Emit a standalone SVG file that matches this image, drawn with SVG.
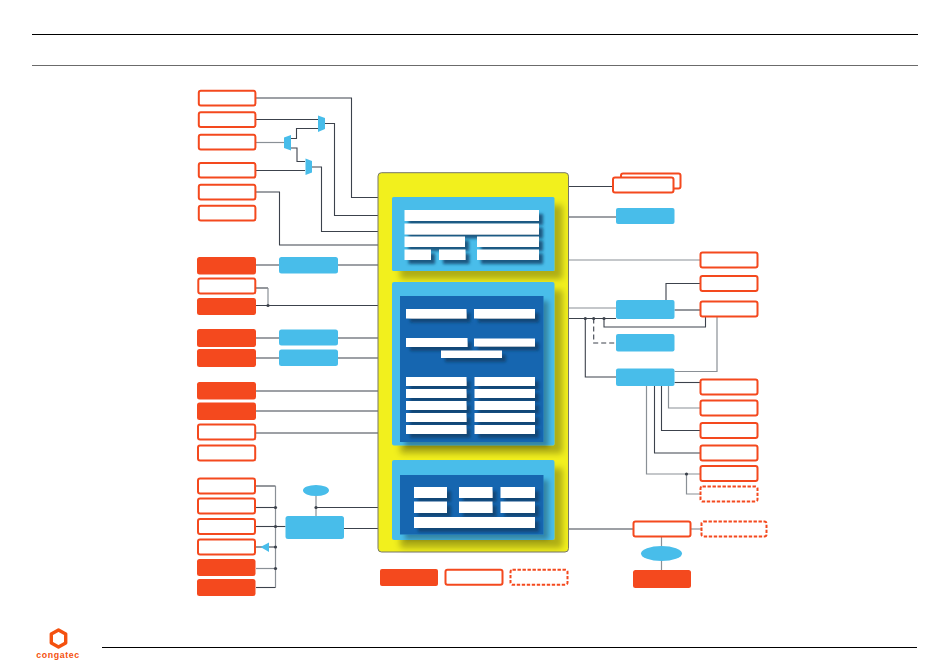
<svg xmlns="http://www.w3.org/2000/svg" width="950" height="667" viewBox="0 0 950 667">
<style>
.w{fill:#fff;stroke:#f4491e;stroke-width:2}
.f{fill:#f4491e;stroke:none}
.d{fill:#fff;stroke:#f4491e;stroke-width:2;stroke-dasharray:3.4 1.6}
.b{fill:#48bdea;stroke:none}
.c{fill:none;stroke:#3c424c;stroke-width:1.1}
.g{fill:none;stroke:#8a9096;stroke-width:1.2}
.k{fill:#3c424c;stroke:none}
.n{fill:#fff;filter:url(#s1)}
.h{stroke:#000;stroke-width:1}
</style>
<defs>
<filter id="s1" x="-30%" y="-100%" width="160%" height="320%"><feDropShadow dx="4" dy="4" stdDeviation="1.6" flood-color="#0a3c68" flood-opacity=".8"/></filter>
<filter id="s2" x="-20%" y="-20%" width="140%" height="140%"><feDropShadow dx="8" dy="8" stdDeviation="3" flood-color="#000" flood-opacity=".28"/></filter>
<filter id="s3" x="-20%" y="-20%" width="140%" height="140%"><feDropShadow dx="5" dy="5" stdDeviation="2.5" flood-color="#000" flood-opacity=".3"/></filter>
</defs>
<rect width="950" height="667" fill="#fff"/>
<g id="page-frame">
<path class="h" d="M32 34.5H918"/>
<path d="M32 65.5H918" stroke="#6b6b6b" stroke-width="1"/>
<path class="h" d="M102 647.5H917"/>
</g>
<g id="connectors">
<path class="c" d="M256 98H351.5V197.5H378"/>
<path class="c" d="M256 119.5H318"/>
<path class="c" d="M318 128.5H296.5V138.5H291"/>
<path class="g" d="M256 142.5H284" stroke-width="1.6"/>
<path class="c" d="M291 148H297V161.5H305"/>
<path class="c" d="M256 170.5H305"/>
<path class="c" d="M325 123.5H334.5V215.5H378"/>
<path class="c" d="M312 167H321.5V231.5H378"/>
<path class="c" d="M256 192H279.5V245H378"/>
<path class="c" d="M256 265H378"/>
<path class="c" d="M256 288H268"/>
<path class="g" d="M268 288V305" stroke-width="1.6"/>
<path class="c" d="M256 305.5H378"/>
<path class="c" d="M256 338H378"/>
<path class="c" d="M256 358H378"/>
<path class="c" d="M256 391H378"/>
<path class="c" d="M256 411H378"/>
<path class="c" d="M256 433H378"/>
<path class="c" d="M256 486H275.5"/>
<path class="g" d="M275.5 486V587.5" stroke-width="1.6"/>
<path class="c" d="M256 507.5H275.5"/>
<path class="c" d="M256 526.5H285.5"/>
<path class="c" d="M256 547H275.5"/>
<path class="g" d="M256 568.5H275.5" stroke-width="1.6"/>
<path class="c" d="M256 587.5H275.5"/>
<path class="g" d="M316 496V516" stroke-width="1.6"/>
<path class="c" d="M316 507.5H378"/>
<path class="c" d="M344 528.5H378"/>
<path class="c" d="M568 186.5H612"/>
<path class="c" d="M568 217H616"/>
<path class="g" d="M568 260H700"/>
<path class="c" d="M666 300V283.5H700"/>
<path class="g" d="M568 308H616"/>
<path class="c" d="M568 318.5H616"/>
<path class="c" d="M674.5 310H700"/>
<path class="c" d="M705.5 317V327H604V318.5"/>
<path class="g" d="M717 317V371.5H674.5"/>
<path class="c" d="M593.7 318.5V343H616" stroke-dasharray="5 3"/>
<path class="c" d="M585.3 318.5V377H616"/>
<path class="c" d="M674.5 382.5H700"/>
<path class="g" d="M668.5 386V408H700"/>
<path class="c" d="M661.5 386V430.5H700"/>
<path class="c" d="M654.5 386V453H700"/>
<path class="g" d="M646.5 386V474H700"/>
<path class="g" d="M686.5 474V494H700"/>
<path class="c" d="M568 529H633"/>
<path class="g" d="M691 529H701"/>
<path class="g" d="M661.5 537V570"/>
<circle class="k" cx="268" cy="305.5" r="1.6"/>
<circle class="k" cx="275.5" cy="507.5" r="1.6"/>
<circle class="k" cx="275.5" cy="526.5" r="1.6"/>
<circle class="k" cx="275.5" cy="547" r="1.6"/>
<circle class="k" cx="275.5" cy="568.5" r="1.6"/>
<circle class="k" cx="316" cy="507.5" r="1.6"/>
<circle class="k" cx="585.3" cy="318.5" r="1.6"/>
<circle class="k" cx="593.7" cy="318.5" r="1.6"/>
<circle class="k" cx="604" cy="318.5" r="1.6"/>
<circle class="k" cx="686.5" cy="474" r="1.6"/>
</g>
<g id="mux-1"><path class="b" d="M318 115.5L325 118V129L318 132Z"/></g>
<g id="mux-2"><path class="b" d="M284 137.5L291 135V150.5L284 148Z"/></g>
<g id="mux-3"><path class="b" d="M305.5 158.5L312 161V172.5L305.5 175Z"/></g>
<g id="arrow-left"><path class="b" d="M260.5 547L269 542.5V552Z"/></g>
<g id="left-1"><rect class="w" x="198.8" y="90.8" width="56.6" height="14.6" rx="2"/></g>
<g id="left-2"><rect class="w" x="198.8" y="112.3" width="56.6" height="14.6" rx="2"/></g>
<g id="left-3"><rect class="w" x="198.8" y="134.8" width="56.6" height="14.6" rx="2"/></g>
<g id="left-4"><rect class="w" x="198.8" y="163" width="56.6" height="14.6" rx="2"/></g>
<g id="left-5"><rect class="w" x="198.8" y="184.8" width="56.6" height="14.6" rx="2"/></g>
<g id="left-6"><rect class="w" x="198.8" y="205.8" width="56.6" height="14.6" rx="2"/></g>
<g id="left-7"><rect class="f" x="197" y="257" width="59" height="17.5" rx="2.5"/></g>
<g id="left-8"><rect class="w" x="198.3" y="278.5" width="57" height="15" rx="2"/></g>
<g id="left-9"><rect class="f" x="197" y="298" width="59" height="17" rx="2.5"/></g>
<g id="left-10"><rect class="f" x="197" y="329" width="59" height="18" rx="2.5"/></g>
<g id="left-11"><rect class="f" x="197" y="349" width="59" height="18" rx="2.5"/></g>
<g id="left-12"><rect class="f" x="197" y="382" width="59" height="17.5" rx="2.5"/></g>
<g id="left-13"><rect class="f" x="197" y="402.5" width="59" height="17.5" rx="2.5"/></g>
<g id="left-14"><rect class="w" x="198" y="424.5" width="57.2" height="15" rx="2"/></g>
<g id="left-15"><rect class="w" x="198" y="445.5" width="57.2" height="15" rx="2"/></g>
<g id="left-16"><rect class="w" x="198" y="478.5" width="57" height="15" rx="2"/></g>
<g id="left-17"><rect class="w" x="198" y="498.5" width="57" height="15" rx="2"/></g>
<g id="left-18"><rect class="w" x="198" y="519" width="57" height="15" rx="2"/></g>
<g id="left-19"><rect class="w" x="198" y="539.5" width="57" height="15" rx="2"/></g>
<g id="left-20"><rect class="f" x="197" y="559" width="58.5" height="17" rx="2.5"/></g>
<g id="left-21"><rect class="f" x="197" y="579" width="58.5" height="17" rx="2.5"/></g>
<g id="bridge-1"><rect class="b" x="279" y="257" width="59" height="16.5" rx="2.5"/></g>
<g id="bridge-2"><rect class="b" x="279" y="329.5" width="59" height="16" rx="2.5"/></g>
<g id="bridge-3"><rect class="b" x="279" y="349.5" width="59" height="16.5" rx="2.5"/></g>
<g id="bridge-4"><rect class="b" x="285.5" y="516" width="58.5" height="23" rx="2.5"/></g>
<g id="ellipse-1"><ellipse class="b" cx="316" cy="490.5" rx="13" ry="5.5"/></g>
<g id="module">
<rect x="378" y="172.7" width="190.5" height="379.3" rx="3.5" fill="#f2f01d" stroke="#77776a" stroke-width="1"/>
<g id="block-top">
<rect class="b" x="392" y="197" width="162.5" height="74" rx="1.5" filter="url(#s2)"/>
<rect class="n" x="404.5" y="210" width="134.5" height="11"/>
<rect class="n" x="404.5" y="223.5" width="134.5" height="11"/>
<rect class="n" x="404.5" y="236.5" width="60.5" height="10.5"/>
<rect class="n" x="477" y="236.5" width="62" height="10.5"/>
<rect class="n" x="404.5" y="249.5" width="26.5" height="10.5"/>
<rect class="n" x="439" y="249.5" width="26.5" height="10.5"/>
<rect class="n" x="477" y="249.5" width="62" height="10.5"/>
</g>
<g id="block-middle">
<rect class="b" x="392" y="282" width="162.5" height="163.5" rx="2" filter="url(#s2)"/>
<rect x="400" y="296" width="143.5" height="146" fill="#1666b0" filter="url(#s3)"/>
<rect class="n" x="406" y="309" width="60.5" height="9.5"/>
<rect class="n" x="474" y="309" width="61" height="9.5"/>
<rect class="n" x="406" y="338" width="61.5" height="9"/>
<rect class="n" x="474" y="338.5" width="61" height="8"/>
<rect class="n" x="441" y="350.5" width="61" height="7.5"/>
<rect class="n" x="406" y="377" width="60.5" height="9"/>
<rect class="n" x="474.5" y="377" width="60.5" height="9"/>
<rect class="n" x="406" y="389" width="60.5" height="9"/>
<rect class="n" x="474.5" y="389" width="60.5" height="9"/>
<rect class="n" x="406" y="401" width="60.5" height="9"/>
<rect class="n" x="474.5" y="401" width="60.5" height="9"/>
<rect class="n" x="406" y="413" width="60.5" height="9"/>
<rect class="n" x="474.5" y="413" width="60.5" height="9"/>
<rect class="n" x="406" y="425" width="60.5" height="9"/>
<rect class="n" x="474.5" y="425" width="60.5" height="9"/>
</g>
<g id="block-bottom">
<rect class="b" x="392" y="460" width="162.5" height="80" rx="2" filter="url(#s2)"/>
<rect x="400" y="475" width="143.5" height="59.5" fill="#1666b0" filter="url(#s3)"/>
<rect class="n" x="414" y="487" width="33" height="11"/>
<rect class="n" x="459" y="487" width="33.5" height="11"/>
<rect class="n" x="500.5" y="487" width="34.5" height="11"/>
<rect class="n" x="414" y="501.5" width="33" height="11.5"/>
<rect class="n" x="459" y="501.5" width="33.5" height="11.5"/>
<rect class="n" x="500.5" y="501.5" width="34.5" height="11.5"/>
<rect class="n" x="414" y="517" width="121" height="11"/>
</g>
</g>
<g id="legend-filled"><rect class="f" x="380" y="569" width="58" height="17" rx="2"/></g>
<g id="legend-solid"><rect class="w" x="445.5" y="569.8" width="57" height="15" rx="2"/></g>
<g id="legend-dashed"><rect class="d" x="510.5" y="569.8" width="57" height="15" rx="2"/></g>
<g id="right-stack">
<rect class="w" x="621" y="173.5" width="59.5" height="15" rx="2"/>
<rect class="w" x="613" y="177.5" width="60.5" height="15" rx="2"/>
</g>
<g id="right-blue-1"><rect class="b" x="616" y="208" width="58.5" height="16" rx="2"/></g>
<g id="right-blue-2"><rect class="b" x="616" y="300" width="58.5" height="19" rx="2"/></g>
<g id="right-blue-3"><rect class="b" x="616" y="334" width="58.5" height="17.5" rx="2"/></g>
<g id="right-blue-4"><rect class="b" x="616" y="368.5" width="58.5" height="17.5" rx="2"/></g>
<g id="right-1"><rect class="w" x="700.5" y="252.5" width="57" height="15" rx="2"/></g>
<g id="right-2"><rect class="w" x="700.5" y="276" width="57" height="15" rx="2"/></g>
<g id="right-3"><rect class="w" x="700.5" y="301.5" width="57" height="15" rx="2"/></g>
<g id="right-4"><rect class="w" x="700.5" y="379.5" width="57" height="15" rx="2"/></g>
<g id="right-5"><rect class="w" x="700.5" y="400.5" width="57" height="15" rx="2"/></g>
<g id="right-6"><rect class="w" x="700.5" y="423" width="57" height="15" rx="2"/></g>
<g id="right-7"><rect class="w" x="700.5" y="445.5" width="57" height="15" rx="2"/></g>
<g id="right-8"><rect class="w" x="700.5" y="466" width="57" height="15" rx="2"/></g>
<g id="right-9"><rect class="d" x="700.5" y="486.5" width="57" height="15" rx="2"/></g>
<g id="bottom-node"><rect class="w" x="633.5" y="521.5" width="57" height="15" rx="2"/></g>
<g id="bottom-dashed"><rect class="d" x="701.5" y="521.5" width="65" height="15" rx="2"/></g>
<g id="bottom-ellipse"><ellipse class="b" cx="661.5" cy="553.5" rx="20.5" ry="7.5"/></g>
<g id="bottom-filled"><rect class="f" x="633" y="570" width="58" height="18" rx="2.5"/></g>
<g id="logo">
<path d="M58.5 630L65.7 634V643L58.5 647L51.3 643V634Z" fill="none" stroke="#f4510f" stroke-width="3.4" stroke-linejoin="round"/>
<text x="58" y="658" text-anchor="middle" font-family="'Liberation Sans',Arial,sans-serif" font-weight="700" font-size="8.8" letter-spacing=".6" fill="#f4510f">congatec</text>
</g>
</svg>
